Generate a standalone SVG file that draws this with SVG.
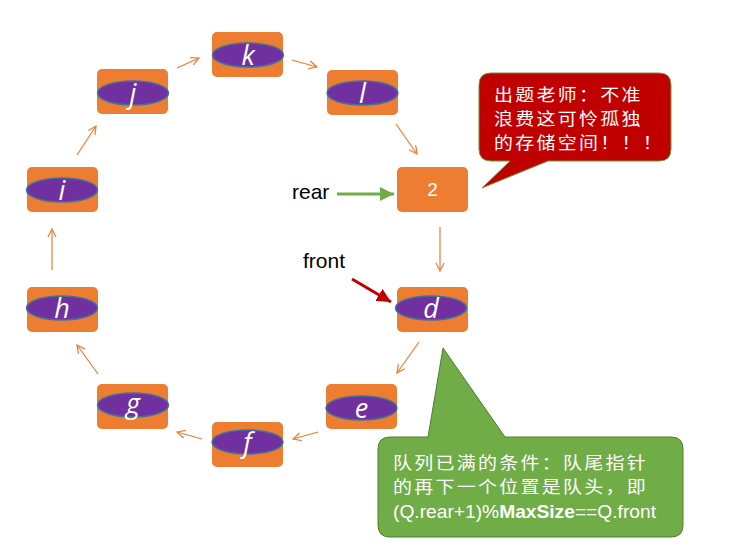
<svg xmlns="http://www.w3.org/2000/svg" width="742" height="549" viewBox="0 0 742 549">
<style>
.box{fill:#ED7D31;}
.ell{fill:#7030A0;stroke:#41719C;stroke-width:1.5;}
.lbl{fill:#fff;font-family:"Open Sans","Liberation Sans",sans-serif;font-style:italic;font-size:27px;text-anchor:middle;}
.num{fill:#fff;font-family:"Liberation Sans",sans-serif;font-size:19px;text-anchor:middle;}
.conn{stroke:#ED7D31;stroke-width:1.2;fill:none;marker-end:url(#open);}
.ptr{font-family:"Liberation Sans",sans-serif;font-size:21px;fill:#000;}
.cjk{fill:#fff;font-family:"Noto Sans CJK SC",sans-serif;font-size:16.5px;letter-spacing:2px;}
</style>
<defs>
<marker id="open" markerUnits="userSpaceOnUse" markerWidth="12" markerHeight="12" refX="9" refY="5" orient="auto">
<path d="M1,1 L9,5 L1,9" fill="none" stroke="#ED7D31" stroke-width="1.2"/>
</marker>
<marker id="gh" markerUnits="userSpaceOnUse" markerWidth="16" markerHeight="14" refX="14" refY="7" orient="auto">
<path d="M0,0 L14,7 L0,14 Z" fill="#70AD47"/>
</marker>
<marker id="rh" markerUnits="userSpaceOnUse" markerWidth="16" markerHeight="14" refX="14" refY="7" orient="auto">
<path d="M0,0 L14,7 L0,14 Z" fill="#C00000"/>
</marker>
</defs>
<rect width="742" height="549" fill="#fff"/>
<g id="connectors">
<line class="conn" x1="52" y1="270" x2="52" y2="229"/>
<line class="conn" x1="77" y1="155" x2="96" y2="126"/>
<line class="conn" x1="177" y1="68" x2="199" y2="58"/>
<line class="conn" x1="292" y1="60" x2="317" y2="67"/>
<line class="conn" x1="396" y1="124" x2="417" y2="154"/>
<line class="conn" x1="440" y1="227" x2="440" y2="271"/>
<line class="conn" x1="419" y1="342" x2="397" y2="373"/>
<line class="conn" x1="318" y1="432" x2="293" y2="439"/>
<line class="conn" x1="202" y1="439" x2="177" y2="432"/>
<line class="conn" x1="98" y1="374" x2="77" y2="345"/>
</g>
<g id="node-k"><rect class="box" x="212" y="32" width="71" height="45" rx="5"/><ellipse class="ell" cx="248" cy="55" rx="35.5" ry="12"/><text class="lbl" x="248" y="65">k</text></g>
<g id="node-l"><rect class="box" x="327" y="70" width="71" height="45" rx="5"/><ellipse class="ell" cx="362.5" cy="93" rx="35.5" ry="12"/><text class="lbl" x="362.5" y="103">l</text></g>
<g id="node-2"><rect class="box" x="397" y="167" width="71" height="45" rx="5"/><text class="num" x="432.5" y="196">2</text></g>
<g id="node-d"><rect class="box" x="397" y="287" width="71" height="45" rx="5"/><ellipse class="ell" cx="431" cy="308" rx="35.5" ry="12"/><text class="lbl" x="431" y="318">d</text></g>
<g id="node-e"><rect class="box" x="326" y="384" width="71" height="45" rx="5"/><ellipse class="ell" cx="361.5" cy="408" rx="35.5" ry="12"/><text class="lbl" x="361.5" y="418">e</text></g>
<g id="node-f"><rect class="box" x="212" y="422" width="71" height="45" rx="5"/><ellipse class="ell" cx="247.5" cy="442" rx="35.5" ry="12"/><text class="lbl" x="247.5" y="452">f</text></g>
<g id="node-g"><rect class="box" x="97" y="384" width="71" height="45" rx="5"/><ellipse class="ell" cx="133" cy="405" rx="35.5" ry="12"/><text class="lbl" x="133" y="413">g</text></g>
<g id="node-h"><rect class="box" x="27" y="287" width="71" height="45" rx="5"/><ellipse class="ell" cx="62" cy="308" rx="35.5" ry="12"/><text class="lbl" x="62" y="318">h</text></g>
<g id="node-i"><rect class="box" x="27" y="167" width="71" height="45" rx="5"/><ellipse class="ell" cx="62" cy="190" rx="35.5" ry="12"/><text class="lbl" x="62" y="200">i</text></g>
<g id="node-j"><rect class="box" x="97" y="69" width="71" height="45" rx="5"/><ellipse class="ell" cx="133" cy="93" rx="35.5" ry="12"/><text class="lbl" x="133" y="103">j</text></g>
<g id="rear-pointer">
<text class="ptr" x="292" y="199">rear</text>
<line x1="337" y1="194" x2="394" y2="194" stroke="#70AD47" stroke-width="3" marker-end="url(#gh)"/>
</g>
<g id="front-pointer">
<text class="ptr" x="303" y="268">front</text>
<line x1="352" y1="279" x2="391" y2="302" stroke="#C00000" stroke-width="3" marker-end="url(#rh)"/>
</g>
<g id="callout-red">
<path d="M491,73 H659 Q671,73 671,85 V149 Q671,161 659,161 H548 L482,188 L510,161 H491 Q479,161 479,149 V85 Q479,73 491,73 Z" fill="#C00000" stroke="#6A9A3A" stroke-width="1"/>
<text class="cjk" transform="translate(494,101) scale(1.15,1)">出题老师：不准</text>
<text class="cjk" transform="translate(494,125) scale(1.15,1)">浪费这可怜孤独</text>
<text class="cjk" transform="translate(494,149) scale(1.15,1)">的存储空间！！！</text>
</g>
<g id="callout-green">
<path d="M390,437 H428 L443,348 L505,437 H671 Q683,437 683,449 V525 Q683,537 671,537 H390 Q378,537 378,525 V449 Q378,437 390,437 Z" fill="#70AD47" stroke="#507E32" stroke-width="1"/>
<text class="cjk" transform="translate(393,469) scale(1.15,1)">队列已满的条件：队尾指针</text>
<text class="cjk" transform="translate(393,493) scale(1.15,1)">的再下一个位置是队头，即</text>
<text x="393" y="518" fill="#fff" font-family="Liberation Sans, sans-serif" font-size="19" textLength="263" lengthAdjust="spacingAndGlyphs">(Q.rear+1)%<tspan font-weight="bold">MaxSize</tspan>==Q.front</text>
</g>
</svg>
